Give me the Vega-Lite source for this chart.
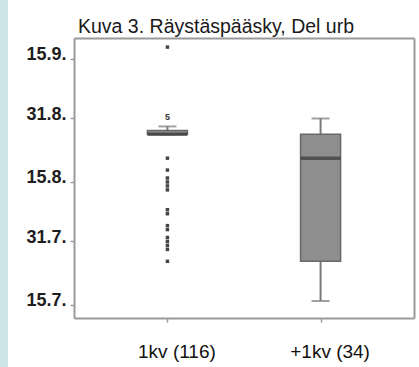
{
  "$schema": "https://vega.github.io/schema/vega-lite/v6.json",
  "width": 340,
  "height": 280,
  "autosize": {"type": "none"},
  "padding": {"left": 74, "top": 38, "right": 5, "bottom": 49},
  "background": "#cde5e8",
  "config": {
    "view": {"stroke": "white", "strokeWidth": 132, "fill": "white"},
    "font": "Liberation Sans"
  },
  "title": {
    "text": "Kuva 3. Räystäspääsky, Del urb",
    "anchor": "start",
    "frame": "group",
    "dx": 4,
    "dy": 20,
    "offset": 6,
    "baseline": "alphabetic",
    "fontSize": 19.5,
    "fontWeight": "normal",
    "color": "#1a1a1a",
    "font": "Liberation Sans"
  },
  "datasets": {
    "box": [
      {"group": "1kv (116)", "lower": "2000-08-27", "q1": "2000-08-27", "median": "2000-08-27", "q3": "2000-08-28", "upper": "2000-08-29"},
      {"group": "+1kv (34)", "lower": "2000-07-16", "q1": "2000-07-26", "median": "2000-08-21", "q3": "2000-08-27", "upper": "2000-08-31"}
    ],
    "outliers": [
      {"group": "1kv (116)", "date": "2000-09-18"},
      {"group": "1kv (116)", "date": "2000-08-21"},
      {"group": "1kv (116)", "date": "2000-08-18"},
      {"group": "1kv (116)", "date": "2000-08-16"},
      {"group": "1kv (116)", "date": "2000-08-15"},
      {"group": "1kv (116)", "date": "2000-08-14"},
      {"group": "1kv (116)", "date": "2000-08-13"},
      {"group": "1kv (116)", "date": "2000-08-08"},
      {"group": "1kv (116)", "date": "2000-08-07"},
      {"group": "1kv (116)", "date": "2000-08-04"},
      {"group": "1kv (116)", "date": "2000-08-03"},
      {"group": "1kv (116)", "date": "2000-08-01"},
      {"group": "1kv (116)", "date": "2000-07-31"},
      {"group": "1kv (116)", "date": "2000-07-30"},
      {"group": "1kv (116)", "date": "2000-07-29"},
      {"group": "1kv (116)", "date": "2000-07-26"}
    ],
    "labels": [
      {"group": "1kv (116)", "date": "2000-09-01", "label": "5"}
    ]
  },
  "resolve": {"axis": {"x": "independent", "y": "independent"}},
  "layer": [
    {
      "data": {"name": "box"},
      "mark": {"type": "rule", "color": "#7a7a7a", "strokeWidth": 2},
      "encoding": {
        "x": {
          "field": "group", "type": "nominal", "sort": ["1kv (116)", "+1kv (34)"],
          "scale": {"type": "point", "padding": 0.61, "domain": ["1kv (116)", "+1kv (34)"]},
          "axis": {"title": null, "labelAngle": 0, "labelFontSize": 19, "labelColor": "#111", "labelPadding": 20, "labelOffset": 9, "domainColor": "#9a9a9a", "domainWidth": 2, "tickColor": "#999", "tickSize": 4, "tickWidth": 1.5, "grid": false}
        },
        "y": {
          "field": "lower", "type": "temporal",
          "scale": {"type": "utc", "domain": [{"year": 2000, "month": 7, "date": 11, "hours": 17, "utc": true}, {"year": 2000, "month": 9, "date": 20, "hours": 7, "utc": true}]},
          "axis": {
            "title": null, "grid": false,
            "labelExpr": "utcFormat(datum.value, '%-d.%-m.')",
            "values": [
              {"year": 2000, "month": 7, "date": 15, "utc": true},
              {"year": 2000, "month": 7, "date": 31, "utc": true},
              {"year": 2000, "month": 8, "date": 15, "utc": true},
              {"year": 2000, "month": 8, "date": 31, "utc": true},
              {"year": 2000, "month": 9, "date": 15, "utc": true}
            ],
            "labelFontSize": 18, "labelFontWeight": "bold", "labelColor": "#1e1e1e", "labelBaseline": "alphabetic", "labelOffset": 1, "labelPadding": 4,
            "domainColor": "#9a9a9a", "domainWidth": 2, "tickColor": "#999", "tickSize": 4, "tickWidth": 1.5
          }
        },
        "y2": {"field": "upper"}
      }
    },
    {
      "data": {"name": "box"},
      "mark": {"type": "tick", "color": "#7a7a7a", "thickness": 2, "size": 18},
      "encoding": {
        "x": {"field": "group", "type": "nominal", "axis": {"orient": "top", "labels": false, "ticks": false, "title": null, "domainColor": "#9a9a9a", "domainWidth": 2, "grid": false}},
        "y": {"field": "upper", "type": "temporal", "axis": {"orient": "right", "labels": false, "ticks": false, "title": null, "domainColor": "#9a9a9a", "domainWidth": 2, "grid": false}}
      }
    },
    {
      "data": {"name": "box"},
      "mark": {"type": "tick", "color": "#7a7a7a", "thickness": 2, "size": 18},
      "encoding": {
        "x": {"field": "group", "type": "nominal", "axis": null},
        "y": {"field": "lower", "type": "temporal", "axis": null}
      }
    },
    {
      "data": {"name": "box"},
      "mark": {"type": "bar", "size": 40, "fill": "#8e8e8e", "stroke": "#686868", "strokeWidth": 1.5},
      "encoding": {
        "x": {"field": "group", "type": "nominal", "axis": null},
        "y": {"field": "q1", "type": "temporal", "axis": null},
        "y2": {"field": "q3"}
      }
    },
    {
      "data": {"name": "box"},
      "mark": {"type": "tick", "color": "#383838", "thickness": 3.5, "size": 40},
      "encoding": {
        "x": {"field": "group", "type": "nominal", "axis": null},
        "y": {"field": "median", "type": "temporal", "axis": null}
      }
    },
    {
      "data": {"name": "outliers"},
      "mark": {"type": "point", "shape": "square", "filled": true, "size": 12, "color": "#444", "opacity": 1},
      "encoding": {
        "x": {"field": "group", "type": "nominal", "axis": null},
        "y": {"field": "date", "type": "temporal", "axis": null}
      }
    },
    {
      "data": {"name": "labels"},
      "mark": {"type": "text", "fontSize": 9, "fontWeight": "bold", "color": "#333", "baseline": "middle", "dy": 2},
      "encoding": {
        "x": {"field": "group", "type": "nominal", "axis": null},
        "y": {"field": "date", "type": "temporal", "axis": null},
        "text": {"field": "label"}
      }
    }
  ]
}
